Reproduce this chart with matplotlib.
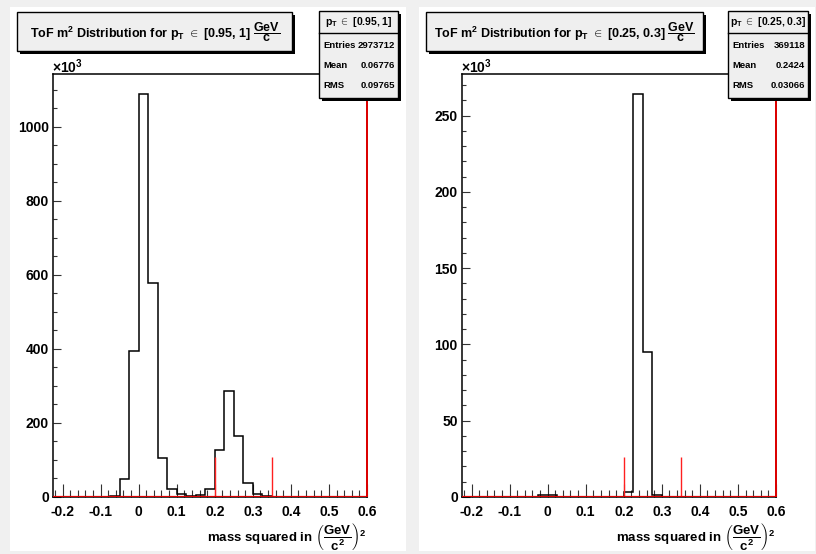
import numpy as np
import matplotlib
matplotlib.use("Agg")
import matplotlib.pyplot as plt
from matplotlib import patches
from matplotlib.ticker import MultipleLocator

plt.rcParams['font.family'] = ['Liberation Sans', 'DejaVu Sans']
plt.rcParams['font.weight'] = 'bold'
plt.rcParams['mathtext.fontset'] = 'custom'
plt.rcParams['mathtext.rm'] = 'Liberation Sans:bold'
plt.rcParams['mathtext.it'] = 'Liberation Sans:bold'
plt.rcParams['mathtext.bf'] = 'Liberation Sans:bold'
plt.rcParams['mathtext.sf'] = 'Liberation Sans:bold'

# binning of the m^2 histograms
bin_lo = -0.225
bin_hi = 0.6
n_bins = 33

# counts per bin (x10^3), pT in [0.95, 1] GeV/c
counts_high = [0, 0, 0, 0, 0, 0, 3, 48, 395, 1088, 577, 106, 22, 7, 4, 5, 22,
               128, 286, 166, 38, 7, 2, 0, 0, 0, 0, 0, 0, 0, 0, 0, 0]
# counts per bin (x10^3), pT in [0.25, 0.3] GeV/c
counts_low = [0, 0, 0, 0, 0, 0, 0, 0, 1, 1, 0, 0, 0, 0, 0, 0, 0,
              3, 264, 95, 1, 0, 0, 0, 0, 0, 0, 0, 0, 0, 0, 0, 0]

# m^2 cut markers (red)
cut_x = [0.2, 0.35]
cut_h_high = [108, 108]
cut_h_low = [26.4, 26.4]
edge_x = 0.6

titles = ["[0.95, 1]", "[0.25, 0.3]"]
entries = ["2973712", "369118"]
means = ["0.06776", "0.2424"]
rmss = ["0.09765", "0.03066"]

W, H = 816, 554
fig = plt.figure(figsize=(W / 100, H / 100), dpi=100, facecolor='#f0f0f0')


def fx(x):
    return x / W


def fy(y):
    return 1 - y / H


def rect(x0, y0, x1, y1, **kw):
    fig.add_artist(patches.Rectangle((fx(x0), fy(y1)), (x1 - x0) / W, (y1 - y0) / H,
                                     transform=fig.transFigure, **kw))


def shadow_box(x0, y0, x1, y1, z=5):
    rect(x0 + 3, y0 + 3, x1 + 3, y1 + 3, facecolor='black', edgecolor='none', zorder=z)
    rect(x0, y0, x1, y1, facecolor='#efefef', edgecolor='black', lw=1.0, zorder=z + 0.1)


edges = np.linspace(bin_lo, bin_hi, n_bins + 1)

panels = [
    dict(px=0, counts=counts_high, cut_h=cut_h_high, major=200, minor=50),
    dict(px=409, counts=counts_low, cut_h=cut_h_low, major=50, minor=10),
]

for i, p in enumerate(panels):
    o = p['px']
    # pad
    rect(10 + o, 7, 406 + o, 551, facecolor='white', edgecolor='none', zorder=0)

    ax = fig.add_axes([fx(53 + o), fy(497), 314 / W, 423 / H])
    ax.set_zorder(1)
    ax.set_facecolor('white')
    counts = np.array(p['counts'], dtype=float)
    ymax = counts.max() * 1.05
    ax.set_xlim(bin_lo, bin_hi)
    ax.set_ylim(0, ymax)

    ax.stairs(counts, edges, color='black', lw=1.1, zorder=3)
    ax.vlines(cut_x, 0, p['cut_h'], color='#ff2020', lw=1.0, zorder=4)
    ax.vlines([edge_x], 0, ymax, color='#e00000', lw=1.4, zorder=4, clip_on=False)
    ax.hlines([0], bin_lo, bin_hi, color='#e00000', lw=1.6, zorder=4)

    for s in ax.spines.values():
        s.set_linewidth(1.1)
        s.set_color('black')

    ax.xaxis.set_major_locator(MultipleLocator(0.1))
    ax.xaxis.set_minor_locator(MultipleLocator(0.02))
    ax.yaxis.set_major_locator(MultipleLocator(p['major']))
    ax.yaxis.set_minor_locator(MultipleLocator(p['minor']))
    ax.tick_params(axis='x', which='major', direction='in', length=9.4, width=0.8,
                   pad=6, labelsize=10, top=False, color='#333333')
    ax.tick_params(axis='x', which='minor', direction='in', length=5, width=0.8,
                   top=False, color='#333333')
    ax.tick_params(axis='y', which='major', direction='in', length=5.8, width=0.8,
                   pad=3, labelsize=10, right=False, color='#333333')
    ax.tick_params(axis='y', which='minor', direction='in', length=3, width=0.8,
                   right=False, color='#333333')
    ax.set_xticks(np.round(np.arange(-0.2, 0.61, 0.1), 1))
    ax.set_xticklabels(['-0.2', '-0.1', '0', '0.1', '0.2', '0.3', '0.4', '0.5', '0.6'])
    for lab in ax.get_xticklabels() + ax.get_yticklabels():
        lab.set_fontweight('bold')

    ax.text(1.0, -0.095, r'mass squared in $\left(\dfrac{GeV}{c^{2}}\right)^{2}$',
            transform=ax.transAxes, ha='right', va='center', fontsize=9.5,
            fontweight='bold')

    fig.text(fx(52 + o), fy(67), r'$\times$10$^{3}$', fontsize=10, fontweight='bold',
             ha='left', va='center', zorder=6)

    # title box
    shadow_box(17 + o, 12, 292 + o + (2 if i else 0), 51)
    fig.text(fx((17 + 292) / 2 + o + 1), fy(32),
             r'ToF m$^{2}$ Distribution for p$_{T}$ $\in$ ' + titles[i] + r' $\dfrac{GeV}{c}$',
             fontsize=9, fontweight='bold', ha='center', va='center', zorder=7)

    # stats box
    sx0, sx1 = 319 + o, 398 + o + (1 if i else 0)
    shadow_box(sx0, 11, sx1, 98)
    fig.add_artist(plt.Line2D([fx(sx0), fx(sx1)], [fy(33), fy(33)], color='black', lw=1.0,
                              transform=fig.transFigure, zorder=6))
    fig.text(fx((sx0 + sx1) / 2), fy(22), r'p$_{T}$ $\in$ ' + titles[i], fontsize=7.5,
             fontweight='bold', ha='center', va='center', zorder=7)
    for yy, lab, val in zip([46, 66, 86], ['Entries', 'Mean', 'RMS'],
                            [entries[i], means[i], rmss[i]]):
        fig.text(fx(sx0 + 4), fy(yy), lab, fontsize=6.8, fontweight='bold',
                 ha='left', va='center', zorder=7)
        fig.text(fx(sx1 - 3), fy(yy), val, fontsize=6.8, fontweight='bold',
                 ha='right', va='center', zorder=7)

fig.savefig('out.png', dpi=100, facecolor=fig.get_facecolor())
